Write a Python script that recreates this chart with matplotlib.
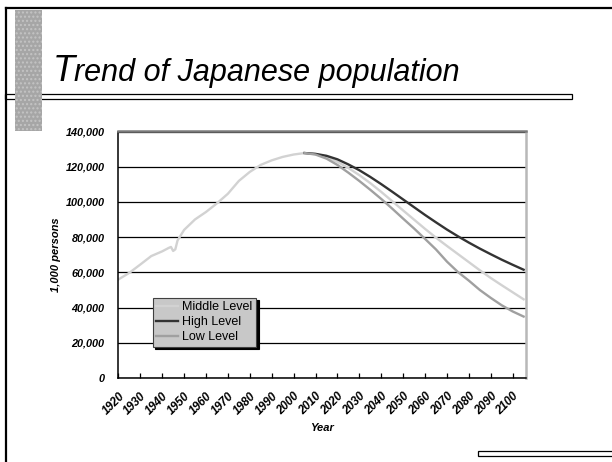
import numpy as np
import matplotlib
matplotlib.use('Agg')
import matplotlib.pyplot as plt
from matplotlib.patches import Rectangle

plt.rcParams['font.family'] = ['Liberation Sans', 'DejaVu Sans']

# Population, 1,000 persons
hist_years = [1920, 1925, 1930, 1935, 1940, 1943, 1944, 1945, 1946, 1947, 1950,
              1955, 1960, 1965, 1970, 1975, 1980, 1985, 1990, 1995, 2000]
hist_pop = [55963, 59737, 64450, 69254, 71933, 73900, 74433, 72147, 73114, 78101, 84115,
            90077, 94302, 99209, 104665, 111940, 117060, 121049, 123611, 125570, 126926]

proj_years = [2005, 2010, 2015, 2020, 2025, 2030, 2035, 2040, 2045, 2050, 2055,
              2060, 2065, 2070, 2075, 2080, 2085, 2090, 2095, 2100, 2105]
middle = [127768, 127176, 125430, 122735, 119270, 115224, 110679, 105695, 100443, 95152, 89930,
          84700, 79700, 75000, 70400, 65800, 61200, 56800, 52700, 48700, 44700]
high = [127768, 127300, 126200, 124200, 121300, 118000, 114200, 110100, 105800, 101400, 97000,
        92600, 88400, 84300, 80500, 76900, 73500, 70300, 67200, 64300, 61500]
low = [127768, 126900, 124600, 121000, 116600, 111900, 106900, 101700, 96200, 90500, 84900,
       79000, 73000, 66100, 60200, 55300, 50000, 45500, 41300, 37800, 34900]

series_names = ['Middle Level', 'High Level', 'Low Level']
series_colors = ['#d2d2d2', '#333333', '#a0a0a0']

year_ticks = list(range(1920, 2101, 10))
pop_ticks = list(range(0, 140001, 20000))

W, H = 612, 462
fig = plt.figure(figsize=(W / 100, H / 100), dpi=100)

# slide decoration, drawn in pixel coords
deco = fig.add_axes([0, 0, 1, 1])
deco.set_xlim(0, W)
deco.set_ylim(H, 0)
deco.axis('off')
deco.plot([6, 6], [H, 8], color='black', lw=1.6)
deco.plot([6, W], [8, 8], color='black', lw=1.6)
deco.add_patch(Rectangle((5, 93.5), 567, 5.5, facecolor='white', edgecolor='black', lw=0.9))
deco.add_patch(Rectangle((15, 10), 27, 121, facecolor='#a6a6a6', edgecolor='#c4c4c4',
                         hatch='....', lw=0))
deco.add_patch(Rectangle((478, 451), 140, 5, facecolor='white', edgecolor='black', lw=0.9))

# title with a bigger first letter
t1 = deco.text(53, 81, 'T', fontsize=26, style='italic', va='baseline')
fig.canvas.draw()
bb = t1.get_window_extent()
deco.text(53 + bb.width - 1, 81, 'rend of Japanese population', fontsize=22,
          style='italic', va='baseline')

# chart
left, right, top, bottom = 118.4, 525.8, 131.5, 378
ax = fig.add_axes([left / W, 1 - bottom / H, (right - left) / W, (bottom - top) / H])

ax.plot(hist_years + proj_years, hist_pop + middle, color=series_colors[0], lw=1.7,
        label=series_names[0])
ax.plot(proj_years, high, color=series_colors[1], lw=1.7, label=series_names[1])
ax.plot(proj_years, low, color=series_colors[2], lw=1.7, label=series_names[2])

ax.set_xlim(1920, 2106)
ax.set_ylim(0, 140000)
ax.set_xticks(year_ticks)
ax.set_xticklabels([str(y) for y in year_ticks], rotation=45, ha='right',
                   rotation_mode='anchor', fontsize=8.5, fontweight='bold', style='italic')
ax.set_yticks(pop_ticks)
ax.set_yticklabels([f'{v:,}' for v in pop_ticks], fontsize=7.8, fontweight='bold',
                   style='italic')
ax.tick_params(axis='x', direction='in', length=3.5, width=0.9, pad=9)
ax.tick_params(axis='y', length=0, pad=10)
ax.grid(axis='y', color='black', lw=0.9)
ax.set_axisbelow(True)

ax.spines['left'].set_color('black')
ax.spines['left'].set_linewidth(1.1)
ax.spines['bottom'].set_color('black')
ax.spines['bottom'].set_linewidth(1.1)
ax.spines['top'].set_color('#7a7a7a')
ax.spines['top'].set_linewidth(1.8)
ax.spines['top'].set_zorder(3)
ax.spines['right'].set_color('#b8b8b8')
ax.spines['right'].set_linewidth(1.8)

ax.set_xlabel('Year', fontsize=8, fontweight='bold', style='italic', labelpad=4)
ax.set_ylabel('1,000 persons', fontsize=8, fontweight='bold', style='italic', labelpad=3)

leg = ax.legend(loc='upper left', bbox_to_anchor=(152.7 / W, 1 - 297.7 / H),
                bbox_transform=fig.transFigure, borderaxespad=0, fancybox=False,
                framealpha=1, facecolor='#c8c8c8', edgecolor='#404040', fontsize=9,
                handlelength=1.75, handletextpad=0.3, labelspacing=0.22, borderpad=0.3,
                shadow={'color': 'black', 'alpha': 1})
leg.get_frame().set_linewidth(0.8)

fig.savefig('out.png', dpi=100)
